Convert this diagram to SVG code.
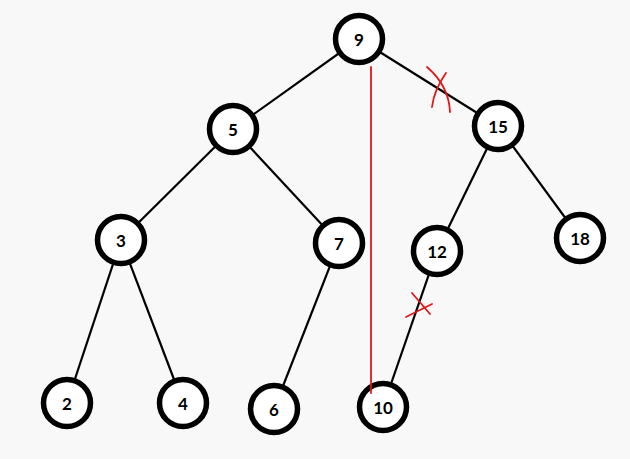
<svg xmlns="http://www.w3.org/2000/svg" width="630" height="459" viewBox="0 0 630 459">
<style>
.edge{stroke:#000;stroke-width:2.2;fill:none}
.node circle{fill:#fff;stroke:#000;stroke-width:5.5}
.node text{font-family:Lato,"Liberation Sans",sans-serif;font-weight:bold;font-size:17px;text-anchor:middle;dominant-baseline:central;fill:#000}
.red{stroke:#e01818;stroke-width:1.8;fill:none;stroke-linecap:round}
</style>
<rect width="630" height="459" fill="#f8f8f8"/>
<g id="connectors">
<line class="edge" x1="359" y1="39" x2="233" y2="129"/>
<line class="edge" x1="359" y1="39" x2="498" y2="126"/>
<line class="edge" x1="233" y1="129" x2="121" y2="240"/>
<line class="edge" x1="233" y1="129" x2="339" y2="243"/>
<line class="edge" x1="121" y1="240" x2="67" y2="403"/>
<line class="edge" x1="121" y1="240" x2="183" y2="403"/>
<line class="edge" x1="339" y1="243" x2="274" y2="409"/>
<line class="edge" x1="498" y1="126" x2="437" y2="251"/>
<line class="edge" x1="498" y1="126" x2="580" y2="238"/>
<line class="edge" x1="437" y1="251" x2="383" y2="407"/>
</g>
<g id="n9" class="node"><circle cx="359" cy="39" r="23.5"/><text x="359" y="39">9</text></g>
<g id="n5" class="node"><circle cx="233" cy="129" r="23.5"/><text x="233" y="129">5</text></g>
<g id="n15" class="node"><circle cx="498" cy="126" r="23.5"/><text x="498" y="126">15</text></g>
<g id="n3" class="node"><circle cx="121" cy="240" r="23.5"/><text x="121" y="240">3</text></g>
<g id="n7" class="node"><circle cx="339" cy="243" r="23.5"/><text x="339" y="243">7</text></g>
<g id="n12" class="node"><circle cx="437" cy="251" r="23.5"/><text x="437" y="251">12</text></g>
<g id="n18" class="node"><circle cx="580" cy="238" r="23.5"/><text x="580" y="238">18</text></g>
<g id="n2" class="node"><circle cx="67" cy="403" r="23.5"/><text x="67" y="403">2</text></g>
<g id="n4" class="node"><circle cx="183" cy="403" r="23.5"/><text x="183" y="403">4</text></g>
<g id="n6" class="node"><circle cx="274" cy="409" r="23.5"/><text x="274" y="409">6</text></g>
<g id="n10" class="node"><circle cx="383" cy="407" r="23.5"/><text x="383" y="407">10</text></g>
<g id="annotations">
<line class="red" x1="371" y1="67" x2="371" y2="393"/>
<path class="red" d="M427,67 Q449,86 450,112"/>
<path class="red" d="M446,73 Q434,90 432,107"/>
<line class="red" x1="412" y1="293" x2="430" y2="314"/>
<line class="red" x1="406" y1="317" x2="432" y2="304"/>
</g>
</svg>
